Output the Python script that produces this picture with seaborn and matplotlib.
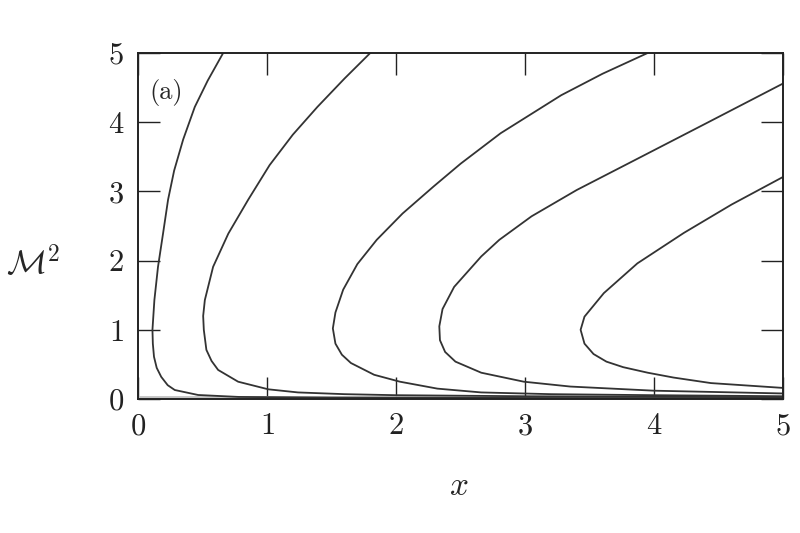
import pandas as pd
import matplotlib
matplotlib.use("Agg")
import matplotlib.pyplot as plt
import seaborn as sns

# curves, traced from the top edge down and along the bottom
c1_x = [0.66, 0.54, 0.44, 0.35, 0.28, 0.233, 0.194, 0.155, 0.127, 0.112, 0.115, 0.124,
        0.145, 0.18, 0.23, 0.285, 0.466, 0.78, 1.5, 3.0, 5.0]
c1_y = [5.0, 4.6, 4.22, 3.75, 3.3, 2.88, 2.39, 1.91, 1.43, 1.0, 0.8, 0.61,
        0.45, 0.32, 0.2, 0.13, 0.058, 0.03, 0.02, 0.015, 0.01]

c2_x = [1.80, 1.60, 1.39, 1.20, 1.02, 0.854, 0.70, 0.582, 0.518, 0.505, 0.51, 0.53, 0.57,
        0.621, 0.776, 1.01, 1.24, 1.6, 2.0, 3.0, 5.0]
c2_y = [5.0, 4.63, 4.22, 3.82, 3.38, 2.88, 2.39, 1.91, 1.43, 1.2, 1.0, 0.71, 0.55,
        0.42, 0.25, 0.14, 0.095, 0.07, 0.055, 0.04, 0.025]

c3_x = [3.95, 3.60, 3.28, 2.81, 2.50, 2.29, 2.05, 1.85, 1.70, 1.59, 1.53, 1.51, 1.53,
        1.58, 1.65, 1.83, 2.03, 2.32, 2.66, 3.2, 4.0, 5.0]
c3_y = [5.0, 4.7, 4.39, 3.84, 3.4, 3.07, 2.68, 2.30, 1.95, 1.58, 1.25, 1.02, 0.8,
        0.64, 0.52, 0.35, 0.25, 0.15, 0.095, 0.07, 0.055, 0.04]

c4_x = [5.0, 4.42, 3.90, 3.40, 3.05, 2.80, 2.66, 2.45, 2.36, 2.335, 2.34, 2.38, 2.46,
        2.66, 2.99, 3.35, 4.0, 5.0]
c4_y = [4.56, 4.0, 3.50, 3.02, 2.64, 2.30, 2.06, 1.62, 1.3, 1.05, 0.85, 0.68, 0.54,
        0.38, 0.25, 0.18, 0.12, 0.08]

c5_x = [5.0, 4.60, 4.23, 3.87, 3.61, 3.46, 3.43, 3.46, 3.53, 3.63, 3.76, 3.95, 4.15, 4.44, 5.0]
c5_y = [3.21, 2.81, 2.40, 1.96, 1.53, 1.19, 1.0, 0.80, 0.65, 0.54, 0.46, 0.38, 0.31, 0.23, 0.16]

base_x = [0.0, 5.0]
base_y = [0.015, 0.015]

ticks = [0, 1, 2, 3, 4, 5]

curves = [c1_x, c2_x, c3_x, c4_x, c5_x]
curves_y = [c1_y, c2_y, c3_y, c4_y, c5_y]
rows = []
for k, (xs, ys) in enumerate(zip(curves, curves_y)):
    for i, (xv, yv) in enumerate(zip(xs, ys)):
        rows.append({"x": xv, "y": yv, "curve": k, "order": i})
df = pd.DataFrame(rows)

sns.set_theme(style="ticks")
plt.rcParams["font.family"] = "serif"
plt.rcParams["font.serif"] = ["cmr10", "DejaVu Serif"]
plt.rcParams["mathtext.fontset"] = "cm"
plt.rcParams["axes.formatter.use_mathtext"] = True

fig = plt.figure(figsize=(8, 5.33), dpi=100)
ax = fig.add_axes([0.1725, 0.2514, 0.8065, 0.6492])

ax.plot(base_x, base_y, color="#c4c4c4", lw=3.5, zorder=1)
sns.lineplot(data=df, x="x", y="y", units="curve", estimator=None, sort=False,
             color="#333333", lw=1.3, ax=ax, zorder=2)

ax.set_xlim(0, 5)
ax.set_ylim(0, 5)
ax.set_xticks(ticks)
ax.set_yticks(ticks)
ax.tick_params(direction="in", length=16, width=1.0, top=True, right=True,
               labelsize=22, colors="#222222", pad=10)
for sp in ax.spines.values():
    sp.set_linewidth(1.4)
    sp.set_color("#222222")

ax.set_xlabel(r"$x$", fontsize=24, va="center")
ax.xaxis.set_label_coords(0.497, -0.254)
ax.set_ylabel(r"$\mathcal{M}^2$", fontsize=24, rotation=0, va="center", ha="center")
ax.yaxis.set_label_coords(-0.162, 0.396)
ax.text(0.018, 0.887, "(a)", transform=ax.transAxes, fontsize=19, va="center", ha="left")

plt.savefig("out.png", dpi=100)
